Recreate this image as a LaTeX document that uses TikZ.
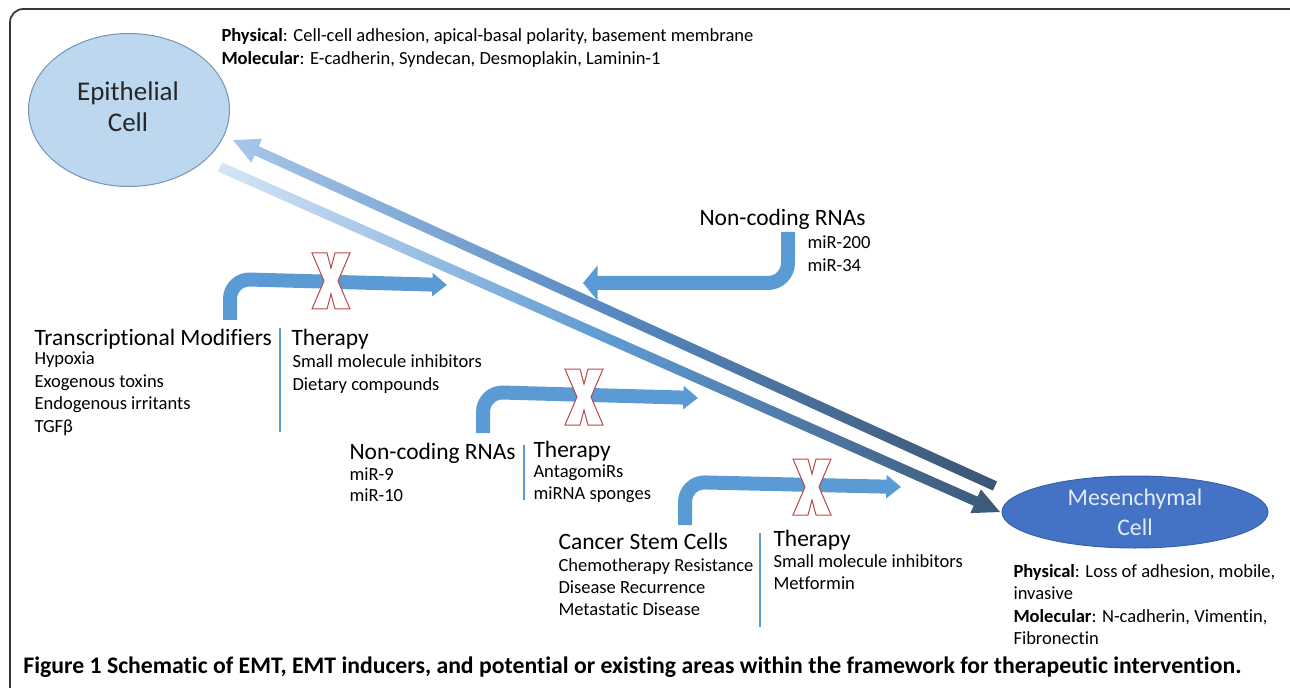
\documentclass[tikz,border=0pt]{standalone}
\usepackage{fontspec}
\setmainfont{Carlito}[Ligatures={NoCommon,NoRequired,NoContextual}]
\usetikzlibrary{arrows.meta,calc,shapes.geometric}

\definecolor{bandblue}{RGB}{91,155,213}
\definecolor{epifill}{RGB}{189,215,238}
\definecolor{epiline}{RGB}{118,146,184}
\definecolor{mesfill}{RGB}{68,114,196}
\definecolor{mesline}{RGB}{58,98,172}
\definecolor{mestext}{RGB}{226,236,248}
\definecolor{crossred}{RGB}{186,72,72}
\definecolor{framegray}{RGB}{55,55,55}
\definecolor{uplight}{RGB}{167,199,234}
\definecolor{upmid}{RGB}{86,136,192}
\definecolor{updark}{RGB}{59,85,116}
\definecolor{lowlight}{RGB}{214,230,245}
\definecolor{lowmid}{RGB}{94,154,210}
\definecolor{lowdark}{RGB}{61,88,119}

\tikzset{every picture/.style={line width=0.75pt}}
\tikzset{
  headtxt/.style={anchor=base west, inner sep=0.75pt, font=\fontsize{17.6}{20}\selectfont},
  listtxt/.style={anchor=base west, inner sep=0.75pt, font=\fontsize{13.9}{17}\selectfont},
  celltxt/.style={inner sep=0pt, align=center},
  bentarrow/.style={draw=bandblue, line width=10.5pt, rounded corners=15pt, -{Triangle[length=11pt,width=17pt]}},
  sepline/.style={draw=bandblue, line width=1.6pt},
  nocross/.pic={
    \draw[crossred, fill=white, line width=0.75pt] (-19,-28) -- (-4,-28) -- (0,-13) -- (4,-28) -- (19,-28) -- (7,0) -- (19,28) -- (4,28) -- (0,13) -- (-4,28) -- (-19,28) -- (-7,0) -- cycle;
  }
}

\begin{document}
\begin{tikzpicture}[x=0.75pt,y=0.75pt,yscale=-1,xscale=1]
\path[use as bounding box, clip] (0,0) rectangle (1290,688);

%Shape: Frame
\draw[framegray, line width=1.3pt, rounded corners=10pt] (10,700) -- (10,9) -- (1300,9);

%Shape: Ellipse [epithelial]
\node (epi) [ellipse, draw=epiline, fill=epifill, minimum width=150.75pt, minimum height=114.75pt] at (129,110) {};
\node (epitxt) [celltxt, font=\fontsize{20.25}{23.25}\selectfont, text=black!85] at (128,107) {Epithelial\\Cell};

%Shape: Ellipse [mesenchymal]
\node (mes) [ellipse, draw=mesline, fill=mesfill, minimum width=199.5pt, minimum height=54pt] at (1135,512) {};
\node (mestxt) [celltxt, font=\fontsize{17.85}{22.5}\selectfont, text=mestext] at (mes.center) {Mesenchymal\\Cell};

%Shape: Arrow [back to epithelial]
\coordinate (up-tail) at (995,486);
\coordinate (up-tip) at (233,140);
\coordinate (up-base) at ($(up-tip)!19.5pt!(up-tail)$);
\shade[left color=uplight, right color=updark, middle color=upmid] ($(up-tail)!3.75pt!90:(up-tip)$) -- ($(up-base)!3.75pt!90:(up-tip)$) -- ($(up-base)!9.75pt!90:(up-tip)$) -- (up-tip) -- ($(up-base)!9.75pt!-90:(up-tip)$) -- ($(up-base)!3.75pt!-90:(up-tip)$) -- ($(up-tail)!3.75pt!-90:(up-tip)$) -- cycle;

%Shape: Arrow [to mesenchymal]
\coordinate (low-tail) at (220,167);
\coordinate (low-tip) at (1000,512);
\coordinate (low-base) at ($(low-tip)!20pt!(low-tail)$);
\shade[left color=lowlight, right color=lowdark, middle color=lowmid] ($(low-tail)!3.75pt!90:(low-tip)$) -- ($(low-base)!3.75pt!90:(low-tip)$) -- ($(low-base)!9.75pt!90:(low-tip)$) -- (low-tip) -- ($(low-base)!9.75pt!-90:(low-tip)$) -- ($(low-base)!3.75pt!-90:(low-tip)$) -- ($(low-tail)!3.75pt!-90:(low-tip)$) -- cycle;

%Bent Arrows
\coordinate (nc1-start) at (788,232);
\coordinate (nc1-end) at (583,283);
\draw[bentarrow, -{Triangle[length=11pt,width=26pt]}] (nc1-start) |- (nc1-end);
\coordinate (tm-start) at (230,320);
\coordinate (tm-end) at (447,285);
\draw[bentarrow] (tm-start) -- (230,279) -- (tm-end);
\coordinate (nc2-start) at (483,433);
\coordinate (nc2-end) at (698,398);
\draw[bentarrow] (nc2-start) -- (483,392) -- (nc2-end);
\coordinate (csc-start) at (685,525);
\coordinate (csc-end) at (901,487);
\draw[bentarrow] (csc-start) -- (685,482) -- (csc-end);

%Shape: Crosses
\pic at (331,281) {nocross};
\pic at (584,397) {nocross};
\pic at (812,487) {nocross};

%Straight Lines
\draw[sepline] (280,328) -- (280,432);
\draw[sepline] (524,445) -- (524,500);
\draw[sepline] (760,533) -- (760,627);

% Text Node
\draw (220,42) node (epiphys) [listtxt] {\textbf{Physical}: Cell-cell adhesion, apical-basal polarity, basement membrane};
% Text Node
\draw (220,65) node (epimol) [listtxt] {\textbf{Molecular}: E-cadherin, Syndecan, Desmoplakin, Laminin-1};

% Text Node
\draw (698,226) node (nc1) [headtxt] {Non-coding RNAs};
% Text Node
\draw (806,249) node (nc1a) [listtxt] {miR-200};
% Text Node
\draw (806,272) node (nc1b) [listtxt] {miR-34};

% Text Node
\draw (33,345) node (tm) [headtxt] {Transcriptional Modifiers};
% Text Node
\draw (33,364) node (tm1) [listtxt] {Hypoxia};
% Text Node
\draw (33,387) node (tm2) [listtxt] {Exogenous toxins};
% Text Node
\draw (33,409) node (tm3) [listtxt] {Endogenous irritants};
% Text Node
\draw (33,432) node (tm4) [listtxt] {TGFβ};

% Text Node
\draw (290,345) node (th1) [headtxt] {Therapy};
% Text Node
\draw (291,367) node (th1a) [listtxt] {Small molecule inhibitors};
% Text Node
\draw (291,390) node (th1b) [listtxt] {Dietary compounds};

% Text Node
\draw (348,459) node (nc2) [headtxt] {Non-coding RNAs};
% Text Node
\draw (348,480) node (nc2a) [listtxt] {miR-9};
% Text Node
\draw (348,501) node (nc2b) [listtxt] {miR-10};

% Text Node
\draw (532,457) node (th2) [headtxt] {Therapy};
% Text Node
\draw (532,477) node (th2a) [listtxt] {AntagomiRs};
% Text Node
\draw (532,499) node (th2b) [listtxt] {miRNA sponges};

% Text Node
\draw (557,549) node (csc) [headtxt] {Cancer Stem Cells};
% Text Node
\draw (557,571) node (csc1) [listtxt] {Chemotherapy Resistance};
% Text Node
\draw (557,593) node (csc2) [listtxt] {Disease Recurrence};
% Text Node
\draw (557,615) node (csc3) [listtxt] {Metastatic Disease};

% Text Node
\draw (772,546) node (th3) [headtxt] {Therapy};
% Text Node
\draw (772,567) node (th3a) [listtxt] {Small molecule inhibitors};
% Text Node
\draw (772,589) node (th3b) [listtxt] {Metformin};

% Text Node
\draw (1012,577) node (mesphys) [listtxt] {\textbf{Physical}: Loss of adhesion, mobile,};
% Text Node
\draw (1012,599) node (mesphys2) [listtxt] {invasive};
% Text Node
\draw (1012,622) node (mesmol) [listtxt] {\textbf{Molecular}: N-cadherin, Vimentin,};
% Text Node
\draw (1012,644) node (mesmol2) [listtxt] {Fibronectin};

% Text Node
\draw (22,673) node (caption) [anchor=base west, inner sep=0.75pt, font=\fontsize{17.8}{20}\selectfont\bfseries] {Figure 1 Schematic of EMT, EMT inducers, and potential or existing areas within the framework for therapeutic intervention.};

\end{tikzpicture}
\end{document}
